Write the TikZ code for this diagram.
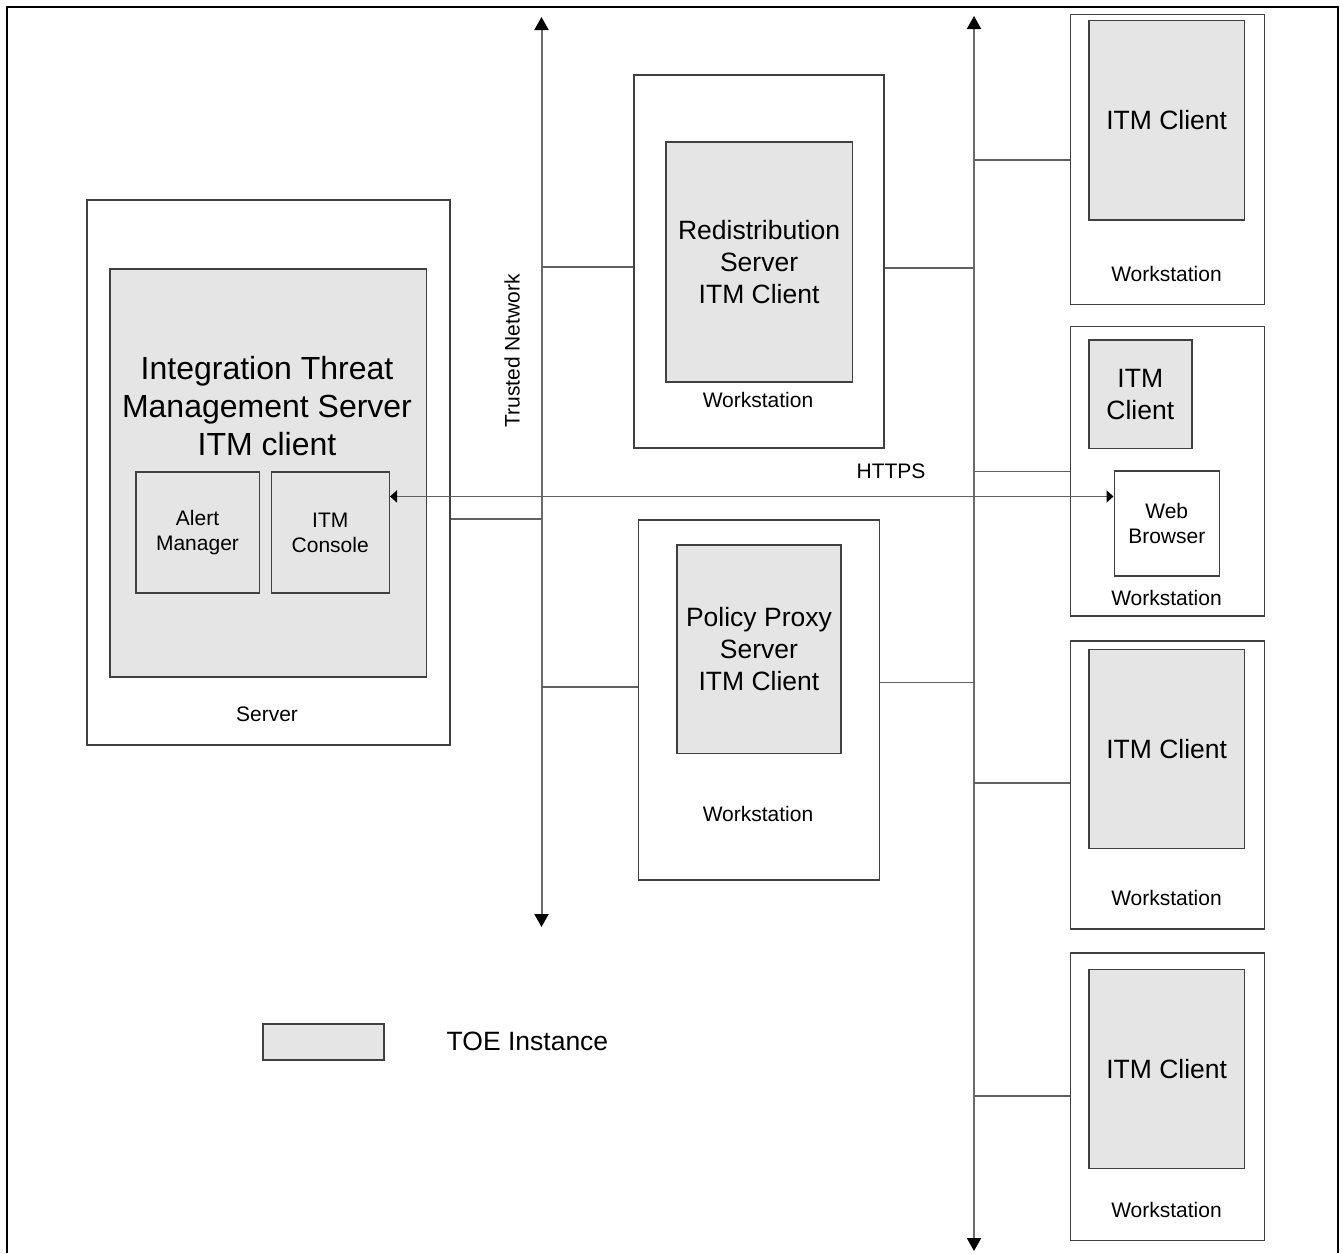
\documentclass[tikz,border=0pt]{standalone}
\usepackage{fontspec}
\setmainfont{Liberation Sans}
\usetikzlibrary{positioning, arrows.meta}

\begin{document}
\begin{tikzpicture}[x=1pt,y=-1pt]
\tikzset{host/.style={rectangle,draw=black!75,line width=1.5pt,anchor=north west,inner sep=0pt},
  toe/.style={host,fill=black!10,align=center,font=\fontsize{26.5}{32}\selectfont},
  wire/.style={draw=black!62,line width=1.8pt},
  trunk/.style={draw=black!58,line width=2pt,{Triangle[length=13pt,width=14pt,color=black]}-{Triangle[length=13pt,width=14pt,color=black]}},
  tag/.style={font=\fontsize{21}{25}\selectfont,align=center}}

\useasboundingbox (0,0) rectangle (1343,1253);
\draw [line width=2.2pt] (7,1253) -- (7,7) -- (1338,7) -- (1338,1253);

% server side
\node [host, minimum width=363pt, minimum height=545pt] (server) at (86,199) {};
\node [toe, minimum width=316.5pt, minimum height=408pt] (itms) at (109,268) {};
\node [font=\fontsize{32}{38}\selectfont, align=center] (itms-text) at (267,406) {Integration Threat\\Management Server\\ITM client};
\node [toe, tag, minimum width=123.5pt, minimum height=120.6pt] (alert) at (135,471.4) {Alert\\Manager};
\node [toe, tag, minimum width=118pt, minimum height=120.6pt] (console) at (270.5,471.4) {ITM\\Console};
\node [tag] (server-label) at (267,714) {Server};

% trusted network
\coordinate (tn-top) at (541.5,17);
\coordinate (tn-bot) at (541.5,927);
\draw [trunk] (tn-top) -- (tn-bot);
\node [tag, rotate=90] (tn-label) at (512,351) {Trusted Network};

% middle workstations
\node [host, minimum width=250pt, minimum height=373pt] (redis) at (633,74.3) {};
\node [toe, minimum width=186.6pt, minimum height=240pt] (redis-itm) at (665,141.4) {Redistribution\\Server\\ITM Client};
\node [tag] (redis-label) at (758,400) {Workstation};

\node [host, minimum width=241pt, minimum height=359.7pt] (proxy) at (637.5,519.3) {};
\node [toe, minimum width=163.6pt, minimum height=208.6pt] (proxy-itm) at (676.4,544) {Policy Proxy\\Server\\ITM Client};
\node [tag] (proxy-label) at (758,813.7) {Workstation};

% right network
\coordinate (rn-top) at (974,16);
\coordinate (rn-bot) at (974,1251);
\draw [trunk] (rn-top) -- (rn-bot);

% right workstations
\node [host, minimum width=194pt, minimum height=289.7pt] (ws1) at (1069.5,13.8) {};
\node [toe, minimum width=155.8pt, minimum height=199.2pt] (ws1-itm) at (1088,19.8) {ITM Client};
\node [tag] (ws1-label) at (1166.5,273.5) {Workstation};

\node [host, minimum width=194pt, minimum height=289.7pt] (ws2) at (1069.5,325.7) {};
\node [toe, minimum width=103pt, minimum height=108.8pt] (ws2-itm) at (1088,339) {ITM\\Client};
\node [host, tag, fill=white, minimum width=105pt, minimum height=104.6pt] (web) at (1113.5,470.4) {Web\\Browser};
\node [tag] (ws2-label) at (1166.5,597.6) {Workstation};

\node [host, minimum width=194pt, minimum height=288pt] (ws3) at (1069.5,640) {};
\node [toe, minimum width=155.8pt, minimum height=198.75pt] (ws3-itm) at (1088,648.75) {ITM Client};
\node [tag] (ws3-label) at (1166.5,898) {Workstation};

\node [host, minimum width=194pt, minimum height=287.6pt] (ws4) at (1069.5,952) {};
\node [toe, minimum width=155.8pt, minimum height=198.75pt] (ws4-itm) at (1088,968.75) {ITM Client};
\node [tag] (ws4-label) at (1166.5,1210) {Workstation};

% taps on the networks
\coordinate (tn-1) at (541.5,267);
\coordinate (tn-2) at (541.5,519);
\coordinate (tn-3) at (541.5,687.3);
\coordinate (rn-1) at (974,159.7);
\coordinate (rn-2) at (974,267.6);
\coordinate (rn-3) at (974,471.5);
\coordinate (rn-4) at (974,682.5);
\coordinate (rn-5) at (974,783.3);
\coordinate (rn-6) at (974,1095.8);

\draw [wire] (tn-2) -- (tn-2 -| server.east);
\draw [wire] (tn-1) -- (tn-1 -| redis.west);
\draw [wire] (tn-3) -- (tn-3 -| proxy.west);
\draw [wire] (rn-2) -- (rn-2 -| redis.east);
\draw [wire] (rn-4) -- (rn-4 -| proxy.east);
\draw [wire] (rn-1) -- (rn-1 -| ws1.west);
\draw [wire] (rn-3) -- (rn-3 -| ws2.west);
\draw [wire] (rn-5) -- (rn-5 -| ws3.west);
\draw [wire] (rn-6) -- (rn-6 -| ws4.west);

% https link
\draw [wire, {Triangle[length=7pt,width=12pt,color=black]}-{Triangle[length=7pt,width=12pt,color=black]}] ([yshift=36pt]console.east) -- ([yshift=36pt]console.east -| web.west);
\node [tag] (https) at (891,471) {HTTPS};

% legend
\node [toe, minimum width=121pt, minimum height=36pt] (legend) at (262,1023) {};
\node [inner sep=0pt, right=62pt of legend, font=\fontsize{26.5}{32}\selectfont] (legend-text) {TOE Instance};

\end{tikzpicture}
\end{document}
